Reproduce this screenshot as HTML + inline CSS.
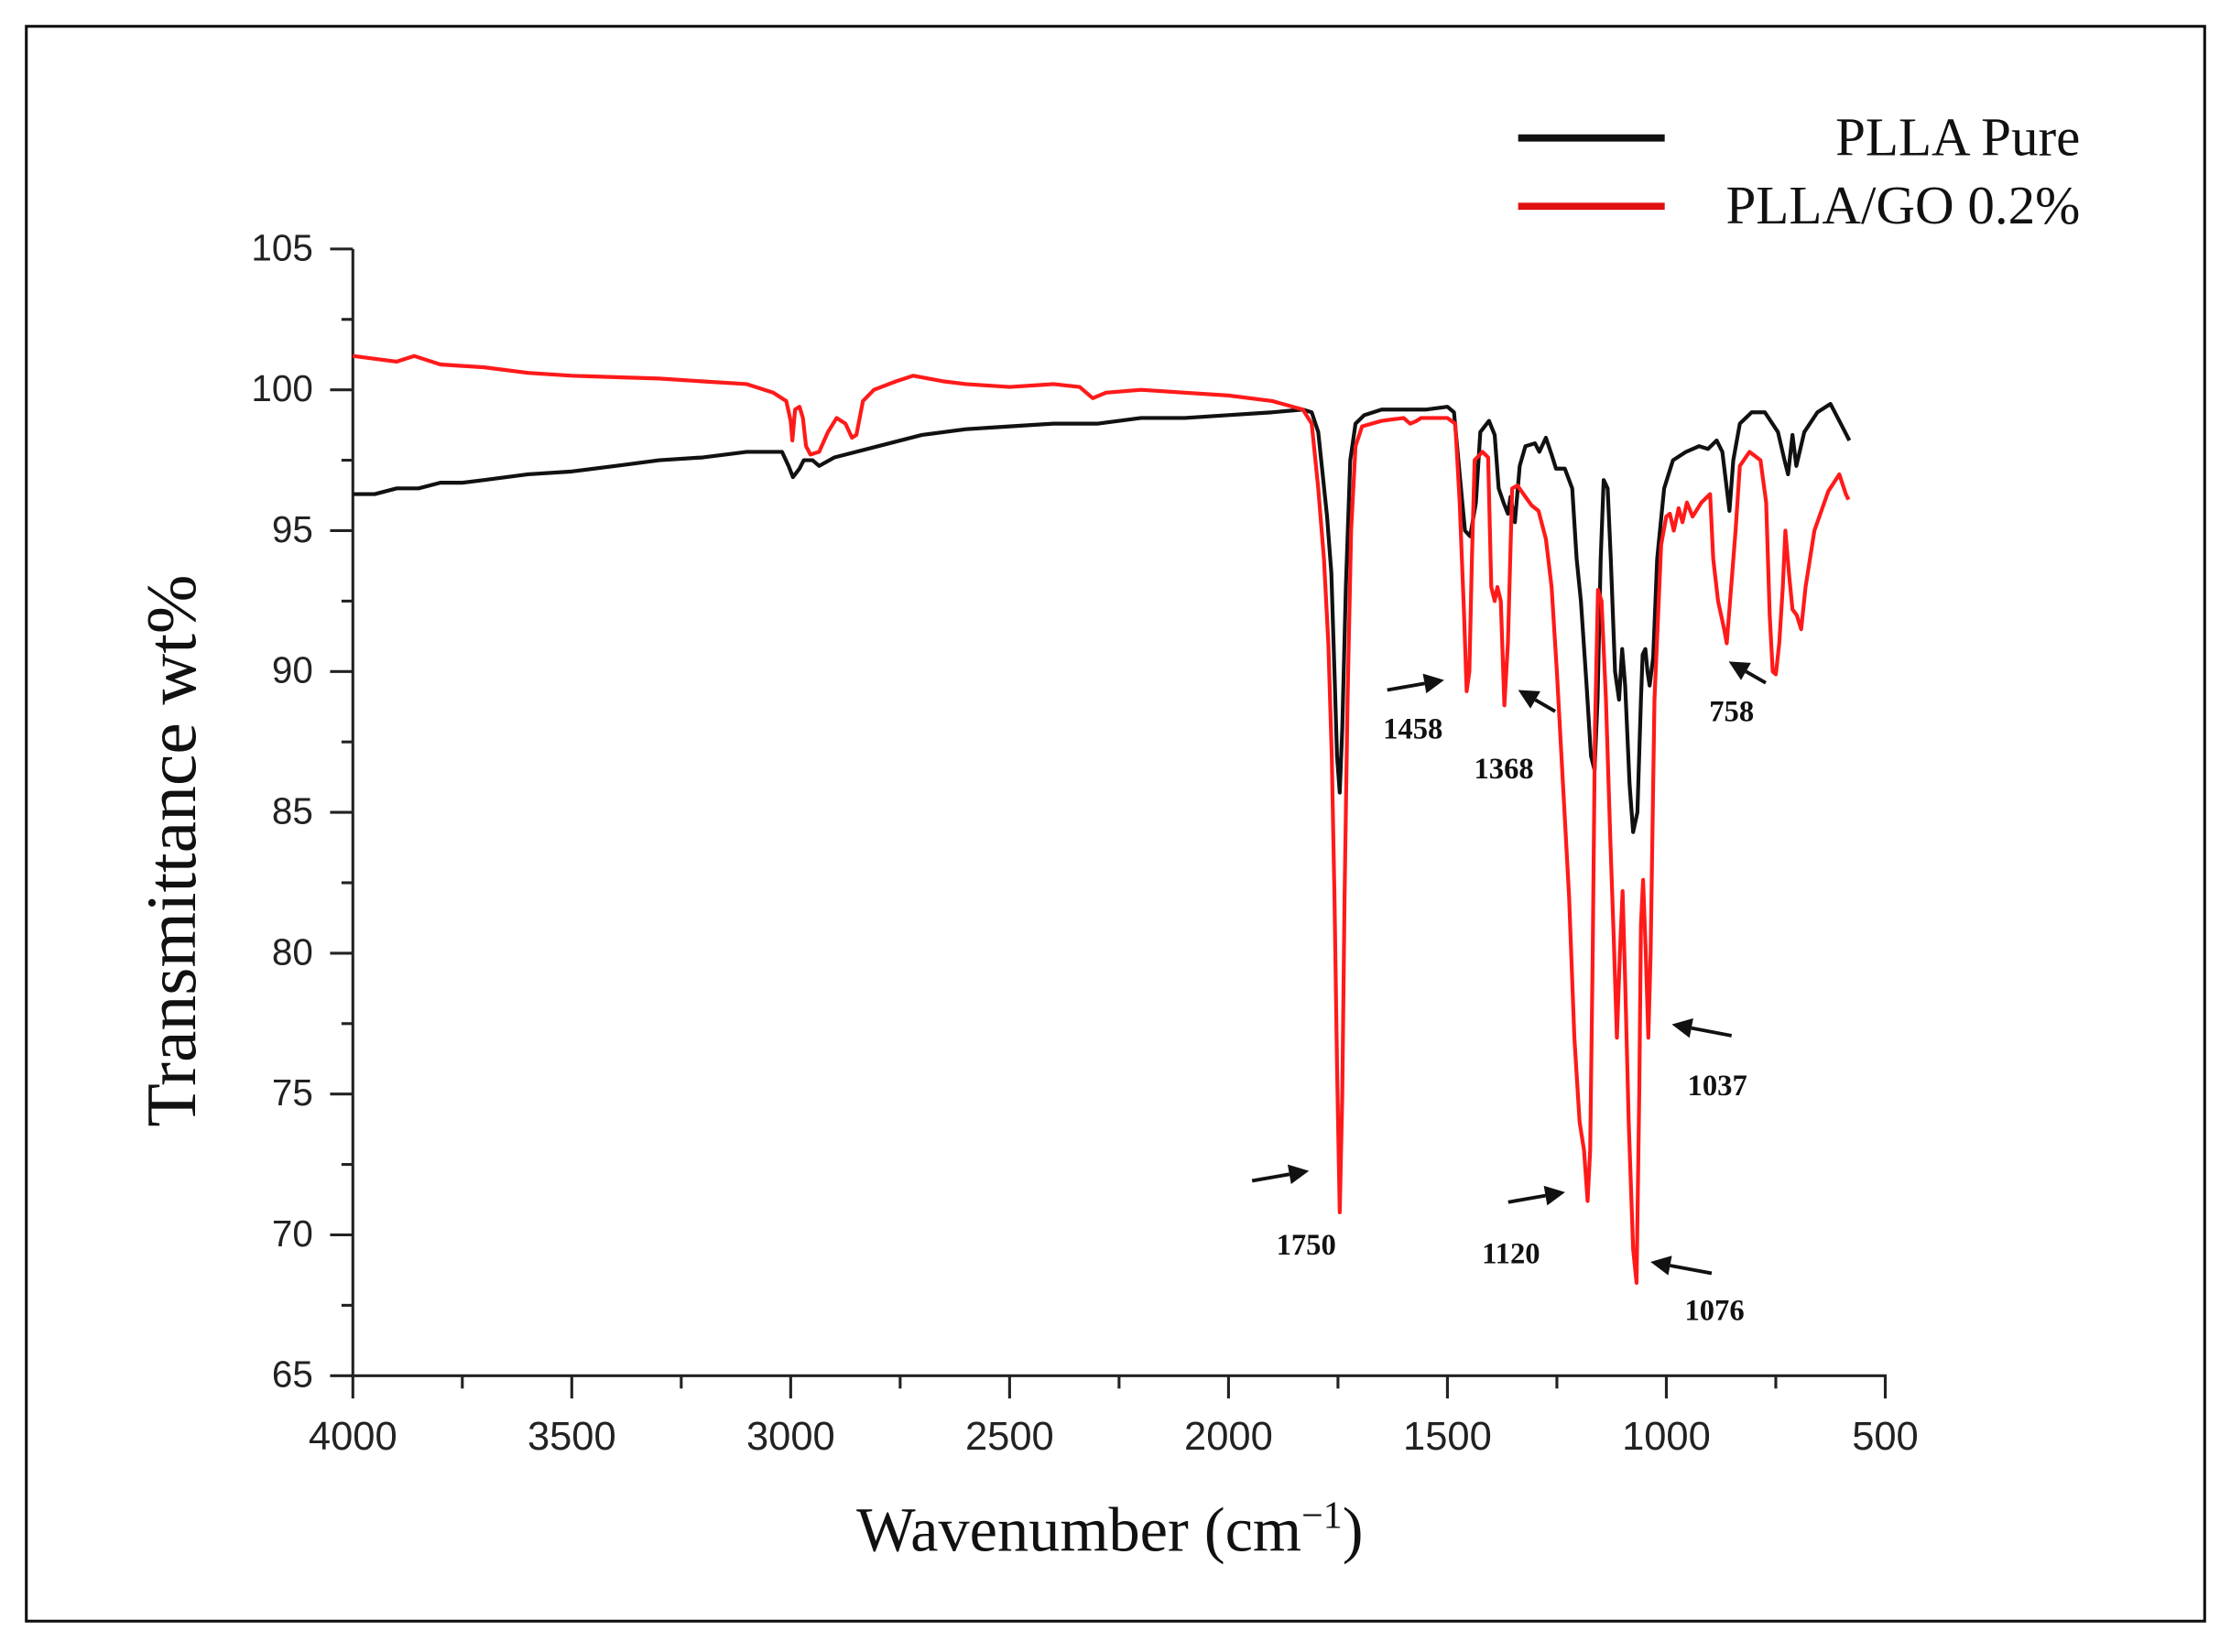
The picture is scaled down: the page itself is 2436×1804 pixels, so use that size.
<!DOCTYPE html>
<html><head><meta charset="utf-8"><style>
html,body{margin:0;padding:0;background:#fff;}
svg{display:block;}
</style></head><body>
<svg id="s" width="2436" height="1804" viewBox="0 0 1568 1161.2" preserveAspectRatio="none" xmlns="http://www.w3.org/2000/svg">
<rect x="0" y="0" width="1568" height="1161.2" fill="#fff"/>
<rect x="18.5" y="18.5" width="1531" height="1121" fill="none" stroke="#111" stroke-width="2"/>
<g id="axes" stroke="#222" stroke-width="2" fill="none"></g>
<g id="labels" font-family="Liberation Sans, Arial, sans-serif" font-size="26" fill="#222"></g>
<text x="137" y="598" transform="rotate(-90 137 598)" text-anchor="middle" font-family="Liberation Serif, serif" font-size="50" fill="#111">Transmittance wt%</text>
<text x="780" y="1090" text-anchor="middle" font-family="Liberation Serif, serif" font-size="44" fill="#111">Wavenumber (cm<tspan dy="-16" font-size="27">−1</tspan><tspan dy="16">)</tspan></text>
<line x1="1067" y1="97" x2="1170" y2="97" stroke="#111" stroke-width="5"/>
<line x1="1067" y1="145" x2="1170" y2="145" stroke="#e01010" stroke-width="5"/>
<text x="1462" y="109" text-anchor="end" font-family="Liberation Serif, serif" font-size="38" fill="#111">PLLA Pure</text>
<text x="1462" y="157" text-anchor="end" font-family="Liberation Serif, serif" font-size="38" fill="#111">PLLA/GO 0.2%</text>
<path id="blk" fill="none" stroke="#111" stroke-width="2.7" stroke-linejoin="round"/>
<path id="red" fill="none" stroke="#ff1a1a" stroke-width="2.7" stroke-linejoin="round"/>
<g id="ann" font-family="Liberation Serif, serif" font-weight="bold" font-size="21" fill="#111" text-anchor="middle"></g>
</svg>
<script>
var X=function(w){return 248+(4000-w)*1077/3500;};
var Y=function(v){return 175+(105-v)*19.8;};
var NS="http://www.w3.org/2000/svg";
function el(p,t,a,txt){var e=document.createElementNS(NS,t);for(var k in a)e.setAttribute(k,a[k]);if(txt)e.textContent=txt;p.appendChild(e);return e;}
var ax=document.getElementById('axes'),lb=document.getElementById('labels');
el(ax,'line',{x1:248,y1:175,x2:248,y2:968});
el(ax,'line',{x1:247,y1:967,x2:1326,y2:967});
for(var v=65;v<=105;v+=2.5){var maj=(v%5==0);el(ax,'line',{x1:maj?232:240,y1:Y(v),x2:248,y2:Y(v)});if(maj)el(lb,'text',{x:220,y:Y(v)+8,'text-anchor':'end'},String(v));}
for(var w=500;w<=4000;w+=250){var maj=(w%500==0);el(ax,'line',{x1:X(w),y1:967,x2:X(w),y2:maj?983:976});if(maj)el(lb,'text',{x:X(w),y:1019,'text-anchor':'middle','font-size':28},String(w));}
function path(d){var s='';for(var i=0;i<d.length;i+=2){s+=(i?'L':'M')+X(d[i]).toFixed(1)+','+Y(d[i+1]).toFixed(1);}return s;}
var B=[4000,96.3,3950,96.3,3900,96.5,3850,96.5,3800,96.7,3750,96.7,3700,96.8,3600,97.0,3500,97.1,3400,97.3,3300,97.5,3200,97.6,3100,97.8,3020,97.8,3005,97.3,2995,96.9,2980,97.2,2970,97.5,2950,97.5,2935,97.3,2900,97.6,2800,98.0,2700,98.4,2600,98.6,2500,98.7,2400,98.8,2300,98.8,2200,99.0,2100,99.0,2000,99.1,1900,99.2,1830,99.3,1810,99.2,1795,98.5,1785,97,1775,95.5,1765,93.5,1758,90,1752,87,1746,85.7,1740,88,1732,93,1722,97.5,1710,98.8,1690,99.1,1650,99.3,1550,99.3,1500,99.4,1485,99.2,1472,97,1460,95,1448,94.8,1435,96,1425,98.5,1405,98.9,1392,98.4,1383,96.5,1372,96,1362,95.6,1356,96.2,1346,95.3,1335,97.3,1322,98,1300,98.1,1290,97.8,1275,98.3,1262,97.7,1252,97.2,1232,97.2,1215,96.5,1205,94,1195,92.5,1182,89.5,1172,87,1164,86.5,1157,89,1150,94,1143,96.8,1134,96.5,1127,94,1117,90,1108,89,1101,90.8,1094,89.5,1084,86,1076,84.3,1066,85,1058,89,1054,90.6,1048,90.8,1043,90.0,1038,89.5,1030,90.5,1021,94,1005,96.5,985,97.5,955,97.8,925,98.0,905,97.9,885,98.2,872,97.8,862,96.5,856,95.7,847,97.5,832,98.8,805,99.2,775,99.2,745,98.5,730,97.5,722,97.0,712,98.4,703,97.3,685,98.5,655,99.2,625,99.5,605,98.9,582,98.2];
var R=[4000,101.2,3950,101.1,3900,101.0,3860,101.2,3840,101.1,3800,100.9,3700,100.8,3600,100.6,3500,100.5,3400,100.45,3300,100.4,3200,100.3,3100,100.2,3040,99.9,3010,99.6,3000,98.9,2996,98.2,2990,99.3,2980,99.4,2972,99.0,2965,98.0,2955,97.7,2935,97.8,2915,98.5,2895,99.0,2875,98.8,2860,98.3,2850,98.4,2835,99.6,2810,100.0,2760,100.3,2720,100.5,2650,100.3,2600,100.2,2500,100.1,2400,100.2,2340,100.1,2310,99.7,2280,99.9,2200,100.0,2100,99.9,2000,99.8,1900,99.6,1830,99.3,1810,98.8,1795,96.5,1782,94,1772,91,1764,87,1758,82,1752,76,1746,70.8,1740,75,1735,82,1728,89,1720,95,1710,98.0,1695,98.7,1650,98.9,1600,99.0,1585,98.8,1570,98.9,1560,99.0,1500,99.0,1482,98.8,1472,96,1462,92,1456,89.3,1450,90,1444,94,1438,97.5,1420,97.8,1407,97.6,1400,93,1392,92.5,1386,93.0,1378,92.5,1370,88.8,1362,91,1352,96.5,1340,96.6,1322,96.2,1308,95.9,1292,95.7,1275,94.7,1262,93,1250,90,1236,86,1222,82,1210,77,1198,74,1188,73,1180,71.2,1174,73,1168,80,1163,88,1156,92.9,1148,92.5,1138,89,1128,84,1120,80.5,1113,77,1106,80,1100,82.2,1094,79,1086,74,1076,69.5,1068,68.3,1062,75,1058,81,1053,82.6,1047,80,1041,77,1036,80,1027,89,1012,94.5,1000,95.5,992,95.6,983,95.0,972,95.8,963,95.3,953,96.0,940,95.5,920,96.0,900,96.3,893,94,882,92.5,868,91.5,862,91,852,93,842,95,832,97.3,810,97.8,785,97.5,772,96,764,92,757,90,750,89.9,742,91,734,93,728,95.0,720,93.5,712,92.2,702,92,692,91.5,682,93,662,95,630,96.4,605,97.0,590,96.3,584,96.1];
document.getElementById('blk').setAttribute('d',path(B));
document.getElementById('red').setAttribute('d',path(R));
var an=document.getElementById('ann');
var arr=[[880,830,920,823,918,882,'1750'],[975,485,1015,478,993,519,'1458'],[1093,500,1067,485,1057,547,'1368'],[1241,480,1215,465,1217,507,'758'],[1217,728,1175,720,1207,770,'1037'],[1060,845,1100,838,1062,888,'1120'],[1203,895,1160,887,1205,928,'1076']];
arr.forEach(function(a){var dx=a[2]-a[0],dy=a[3]-a[1],L=Math.sqrt(dx*dx+dy*dy),ux=dx/L,uy=dy/L;var hx=a[2]-ux*14,hy=a[3]-uy*14;
el(an,'line',{x1:a[0],y1:a[1],x2:hx,y2:hy,stroke:'#111','stroke-width':2.5});
el(an,'polygon',{points:a[2]+','+a[3]+' '+(hx-uy*7)+','+(hy+ux*7)+' '+(hx+uy*7)+','+(hy-ux*7),fill:'#111'});
el(an,'text',{x:a[4],y:a[5]},a[6]);});
</script>
</body></html>
